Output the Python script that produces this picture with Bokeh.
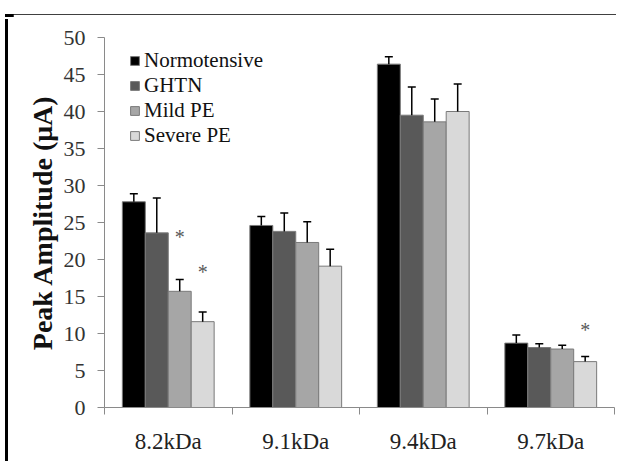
from bokeh.plotting import figure
from bokeh.layouts import column, row
from bokeh.models import (ColumnDataSource, Whisker, TeeHead, Legend, LegendItem,
                          FixedTicker, Range1d, Div)
from bokeh.core.properties import value
from bokeh.embed import file_html
from bokeh.resources import INLINE

# ---- data ----
categories = ["8.2kDa", "9.1kDa", "9.4kDa", "9.7kDa"]
series = ["Normotensive", "GHTN", "Mild PE", "Severe PE"]
normotensive = [27.8, 24.6, 46.4, 8.7]
ghtn = [23.6, 23.8, 39.5, 8.1]
mild_pe = [15.7, 22.3, 38.6, 7.9]
severe_pe = [11.6, 19.1, 40.0, 6.2]
normotensive_err = [1.1, 1.2, 1.0, 1.1]
ghtn_err = [4.7, 2.5, 3.8, 0.5]
mild_pe_err = [1.6, 2.8, 3.1, 0.5]
severe_pe_err = [1.3, 2.3, 3.7, 0.7]
# significance markers: category index, series index, height (µA)
star_category = [0, 0, 3]
star_series = [2, 3, 3]
star_height = [23.2, 18.5, 10.6]

values = [normotensive, ghtn, mild_pe, severe_pe]
errors = [normotensive_err, ghtn_err, mild_pe_err, severe_pe_err]
colors = ["#000000", "#595959", "#a6a6a6", "#d9d9d9"]
FONT = "Liberation Serif"
BAR_W = 0.18

def xpos(ci, si):
    return ci + 0.5 + (si - 1.5) * BAR_W

TOTAL_W, TOTAL_H = 611, 446
EDGE_X, EDGE_Y = 3, 4            # space taken by the black page border strips
W, H = TOTAL_W - EDGE_X, TOTAL_H - EDGE_Y
LEFT, TOP, RIGHT, BOTTOM = 91, 23, 7, 49
p = figure(width=W, height=H, output_backend="svg", toolbar_location=None,
           x_range=Range1d(0, 4), y_range=Range1d(0, 50),
           min_border_left=LEFT, min_border_right=RIGHT, min_border_top=TOP,
           min_border_bottom=BOTTOM)
p.outline_line_color = None
p.xgrid.grid_line_color = None
p.ygrid.grid_line_color = None
p.background_fill_color = "white"
p.border_fill_color = "white"

items = []
for si, name in enumerate(series):
    xs = [xpos(ci, si) for ci in range(len(categories))]
    src = ColumnDataSource(dict(x=xs, top=values[si],
                                upper=[v + e for v, e in zip(values[si], errors[si])]))
    r = p.vbar(x="x", top="top", width=BAR_W, bottom=0, source=src,
               fill_color=colors[si], line_color="#7a7a7a", line_width=1)
    items.append(LegendItem(label=name, renderers=[r]))
    w = Whisker(base="x", lower="top", upper="upper", source=src,
                line_color="black", line_width=1.5, lower_head=None,
                upper_head=TeeHead(size=8, line_color="black", line_width=1.5),
                level="overlay")
    p.add_layout(w)

star_src = ColumnDataSource(dict(x=[xpos(c, s) for c, s in zip(star_category, star_series)],
                                 y=star_height, t=["*"] * len(star_height)))
p.text(x="x", y="y", text="t", source=star_src, text_font=value(FONT),
       text_font_size="20px", text_color="#595959", text_align="center",
       text_baseline="middle", y_offset=1)

legend = Legend(items=items, location=(25, 259), padding=0, margin=0,
                border_line_color=None, background_fill_alpha=0,
                glyph_width=11, glyph_height=11, label_height=24, spacing=0,
                label_standoff=4, label_text_font=FONT, label_text_font_size="21px",
                label_text_color="#111111")
p.add_layout(legend, "center")

# y axis
ya = p.yaxis[0]
ya.ticker = FixedTicker(ticks=list(range(0, 51, 5)))
ya.minor_tick_line_color = None
ya.axis_line_color = "#8a8a8a"
ya.major_tick_line_color = "#8a8a8a"
ya.major_tick_out = 7
ya.major_tick_in = 0
ya.major_label_standoff = 12
ya.major_label_text_font = FONT
ya.major_label_text_font_size = "22px"
ya.major_label_text_color = "#333333"
ya.axis_label = "Peak Amplitude (μA)"
ya.axis_label_text_font = FONT
ya.axis_label_text_font_style = "bold"
ya.axis_label_text_font_size = "28px"
ya.axis_label_text_color = "#111111"
ya.axis_label_standoff = 3

# x axis
xa = p.xaxis[0]
centers = [i + 0.5 for i in range(len(categories))]
xa.ticker = FixedTicker(ticks=centers, minor_ticks=list(range(len(categories) + 1)))
xa.major_label_overrides = {c: lab for c, lab in zip(centers, categories)}
xa.axis_line_color = "#8a8a8a"
xa.major_tick_line_color = None
xa.major_tick_out = 0
xa.major_tick_in = 0
xa.minor_tick_line_color = "#8a8a8a"
xa.minor_tick_out = 7
xa.minor_tick_in = 0
xa.major_label_standoff = 14
xa.major_label_text_font = FONT
xa.major_label_text_font_size = "23px"
xa.major_label_text_color = "#222222"

# black page border (top and left) as plain HTML strips
top_strip = Div(width=TOTAL_W, height=EDGE_Y,
                text='<div style="margin-top:1px;width:%dpx;height:3px;background:#000"></div>' % TOTAL_W)
left_strip = Div(width=EDGE_X, height=H,
                 text='<div style="width:3px;height:%dpx;background:#000"></div>' % H)
root = column(top_strip, row(left_strip, p, spacing=0), spacing=0)

open("out.html", "w").write(file_html(root, INLINE))
